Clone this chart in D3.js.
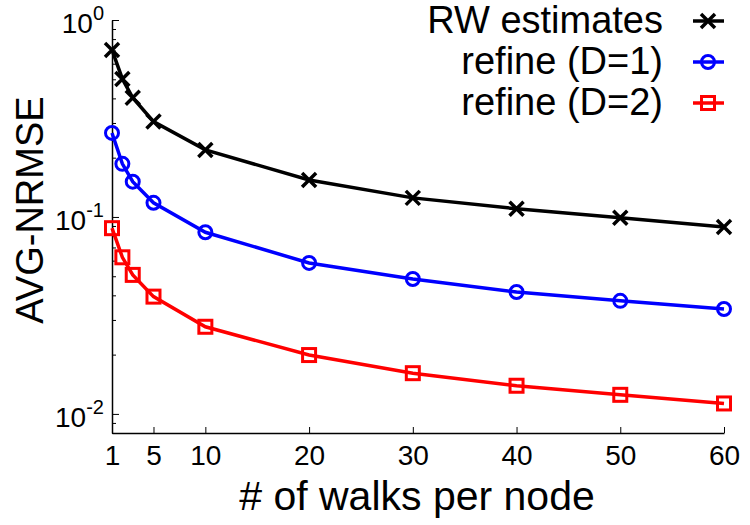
<!DOCTYPE html>
<html lang="en">
<head>
  <meta charset="UTF-8">
  <script src="https://cdn.jsdelivr.net/npm/d3@7"></script>
  <title>AVG-NRMSE</title>
  <style>
    body { margin: 0; background: #fff; }
    text { font-family: 'Liberation Sans', Arial, sans-serif; fill: #000; }
  </style>
</head>
<body>
  <svg width="750" height="525" id="chart"></svg>
  <script>
    const walks = [1, 2, 3, 5, 10, 20, 30, 40, 50, 60];
    const rwEstimates = [0.705, 0.502, 0.403, 0.305, 0.219, 0.154, 0.125, 0.110, 0.099, 0.089];
    const refineD1 = [0.267, 0.186, 0.151, 0.118, 0.0836, 0.0584, 0.0484, 0.0416, 0.0375, 0.0341];
    const refineD2 = [0.0877, 0.0624, 0.0508, 0.0394, 0.0277, 0.0199, 0.0161, 0.0139, 0.0125, 0.0113];
    const xTicks = [1, 5, 10, 20, 30, 40, 50, 60];
    const yExponents = [0, -1, -2];
    const seriesNames = ["RW estimates", "refine (D=1)", "refine (D=2)"];

    const series = [
      { name: seriesNames[0], values: rwEstimates, color: "#000000", marker: "cross" },
      { name: seriesNames[1], values: refineD1, color: "#0000ff", marker: "circle" },
      { name: seriesNames[2], values: refineD2, color: "#ff0000", marker: "square" }
    ];

    const svg = d3.select("#chart");
    const mLeft = 112, mRight = 724, mTop = 20, mBottom = 433;

    const x = d3.scaleLinear().domain([1, 60]).range([mLeft, mRight]);
    const y = d3.scaleLog().domain([0.008, 1]).range([mBottom, mTop]);

    // minor ticks on the log axis
    const minor = [];
    [0.001, 0.01, 0.1].forEach(d => {
      for (let k = 2; k <= 9; k++) {
        const v = d * k;
        if (v >= 0.008 && v <= 1) minor.push(v);
      }
    });

    svg.append("g")
      .attr("transform", `translate(${mLeft},0)`)
      .call(d3.axisLeft(y).tickValues(minor).tickFormat("").tickSizeInner(-4).tickSizeOuter(0))
      .call(g => g.select(".domain").remove())
      .selectAll("line").attr("stroke-width", 1);

    const yAxis = svg.append("g")
      .attr("transform", `translate(${mLeft},0)`)
      .call(d3.axisLeft(y).tickValues(yExponents.map(e => Math.pow(10, e))).tickFormat("").tickSizeInner(-7).tickSizeOuter(0));
    yAxis.select(".domain").attr("stroke-width", 1.5);
    yAxis.selectAll("line").attr("stroke-width", 1);

    // y tick labels as 10^e
    const yl = svg.append("g").selectAll("text")
      .data(yExponents).enter().append("text")
      .attr("x", mLeft - 8)
      .attr("y", e => y(Math.pow(10, e)) + 13)
      .attr("text-anchor", "end")
      .style("font-size", "28px");
    yl.append("tspan").text("10");
    yl.append("tspan").attr("dy", -13).style("font-size", "20px").text(e => e);

    const xAxis = svg.append("g")
      .attr("transform", `translate(0,${mBottom})`)
      .call(d3.axisBottom(x).tickValues(xTicks).tickSizeInner(-6).tickSizeOuter(0).tickPadding(12));
    xAxis.select(".domain").attr("stroke-width", 1.5);
    xAxis.selectAll("line").attr("stroke-width", 1);
    xAxis.selectAll("text").style("font-size", "28px").style("font-family", "'Liberation Sans', Arial, sans-serif");

    svg.append("text")
      .attr("x", 417).attr("y", 510)
      .attr("text-anchor", "middle")
      .style("font-size", "41px")
      .text("# of walks per node");

    svg.append("text")
      .attr("transform", "rotate(-90)")
      .attr("x", -210).attr("y", 43)
      .attr("text-anchor", "middle")
      .style("font-size", "38px")
      .text("AVG-NRMSE");

    const line = d3.line().x((d, i) => x(walks[i])).y(d => y(d));

    function drawMarker(g, type, color) {
      if (type === "cross") {
        g.append("path").attr("d", "M-7,-7L7,7M-7,7L7,-7")
          .attr("stroke", color).attr("stroke-width", 3.5).attr("fill", "none");
      } else if (type === "circle") {
        g.append("circle").attr("r", 6.5)
          .attr("stroke", color).attr("stroke-width", 3).attr("fill", "none");
      } else {
        g.append("rect").attr("x", -6.5).attr("y", -6.5).attr("width", 13).attr("height", 13)
          .attr("stroke", color).attr("stroke-width", 3).attr("fill", "none");
      }
    }

    series.forEach(s => {
      svg.append("path")
        .datum(s.values)
        .attr("d", line)
        .attr("fill", "none")
        .attr("stroke", s.color)
        .attr("stroke-width", 3.5);
      svg.append("g").selectAll("g")
        .data(s.values).enter().append("g")
        .attr("transform", (d, i) => `translate(${x(walks[i])},${y(d)})`)
        .each(function () { drawMarker(d3.select(this), s.marker, s.color); });
    });

    // legend
    const legend = svg.append("g").selectAll("g")
      .data(series).enter().append("g")
      .attr("transform", (d, i) => `translate(0,${21 + i * 41})`);
    legend.append("text")
      .attr("x", 663).attr("y", 12)
      .attr("text-anchor", "end")
      .style("font-size", "38px")
      .text(d => d.name);
    legend.append("line")
      .attr("x1", 693).attr("x2", 724)
      .attr("stroke", d => d.color).attr("stroke-width", 3.5);
    legend.append("g")
      .attr("transform", "translate(708,0)")
      .each(function (d) { drawMarker(d3.select(this), d.marker, d.color); });
  </script>
</body>
</html>
